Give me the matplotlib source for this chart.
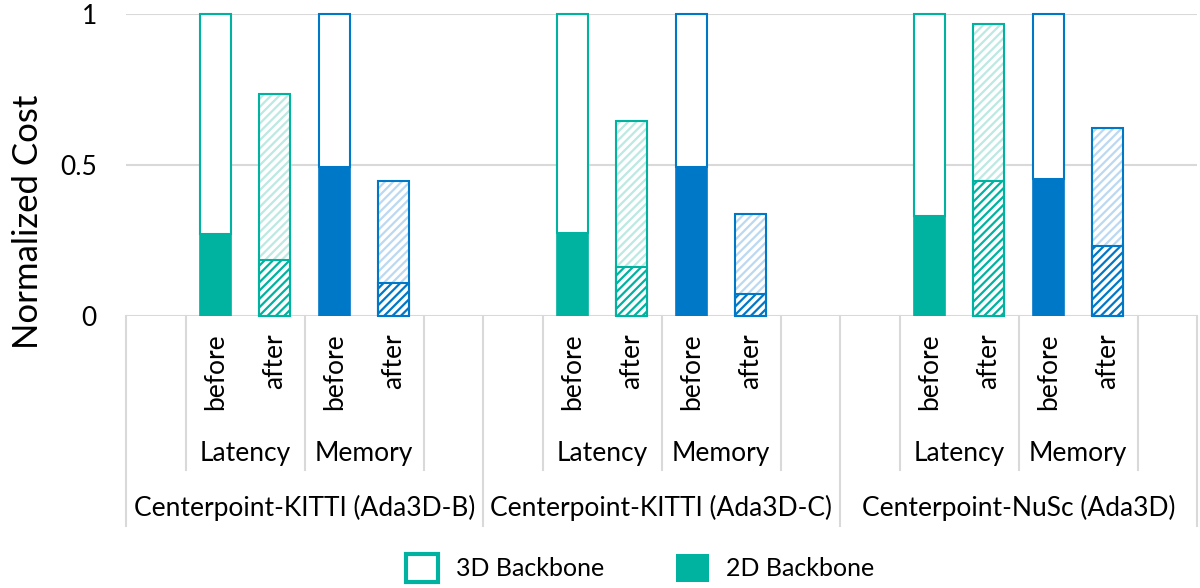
import matplotlib
matplotlib.use("Agg")
import matplotlib.pyplot as plt
from matplotlib.patches import Patch
from matplotlib.transforms import blended_transform_factory

plt.rcParams['font.family'] = ['Lato', 'DejaVu Sans']
plt.rcParams['hatch.linewidth'] = 1.6

groups = ["Centerpoint-KITTI (Ada3D-B)", "Centerpoint-KITTI (Ada3D-C)", "Centerpoint-NuSc (Ada3D)"]
metrics = ["Latency", "Memory"]
stages = ["before", "after"]

# per group: [lat_before, lat_after, mem_before, mem_after]
total_cost = [
    [1.0, 0.735, 1.0, 0.448],
    [1.0, 0.646, 1.0, 0.337],
    [1.0, 0.966, 1.0, 0.621],
]
backbone2d = [
    [0.270, 0.186, 0.493, 0.109],
    [0.276, 0.163, 0.492, 0.072],
    [0.332, 0.448, 0.455, 0.233],
]

teal = '#00B2A0'
blue = '#0078C8'
teal_light = '#BDE9E3'
blue_light = '#BCD9F1'
grid_c = '#D9D9D9'

fig = plt.figure(figsize=(12, 5.88), dpi=100)
ax = fig.add_axes([126/1200, 1-316/588, (1197-126)/1200, (316-14)/588])
ax.set_xlim(0, 18)
ax.set_ylim(0, 1)
for s in ax.spines.values():
    s.set_visible(False)
ax.set_yticks([0, 0.5, 1])
ax.set_yticklabels(['0', '0.5', '1'])
ax.tick_params(axis='y', length=0, pad=21, labelsize=19)
ax.set_xticks([])
for yv in [0, 0.5, 1]:
    ax.axhline(yv, color=grid_c, lw=1.5, zorder=0)

w = 0.52
for g in range(3):
    for k in range(4):
        x = g*6 + 1 + k + 0.5
        dark = teal if k < 2 else blue
        light = teal_light if k < 2 else blue_light
        tot = total_cost[g][k]
        b2 = backbone2d[g][k]
        if k % 2 == 0:
            ax.bar(x, b2, w, color=dark, edgecolor=dark, lw=1.2, zorder=2)
            ax.bar(x, tot - b2, w, bottom=b2, color='white', edgecolor=dark, lw=1.5, zorder=2, clip_on=False)
        else:
            ax.bar(x, b2, w, color='white', edgecolor=dark, hatch='////', lw=0, zorder=2)
            ax.bar(x, tot - b2, w, bottom=b2, color='white', edgecolor=light, hatch='////', lw=0, zorder=2)
            ax.bar(x, b2, w, fill=False, edgecolor=dark, lw=1.5, zorder=3)
            ax.bar(x, tot, w, fill=False, edgecolor=dark, lw=1.5, zorder=3, clip_on=False)

# multi-level category axis
tr = blended_transform_factory(ax.transData, fig.transFigure)
y0 = 1 - 316/588
y_inner = 1 - 470/588
y_outer = 1 - 526/588
for g in range(3):
    base = g*6
    for xb in [1, 3, 5]:
        ax.plot([base+xb, base+xb], [y0, y_inner], color=grid_c, lw=1.5, transform=tr, clip_on=False)
    for k in range(4):
        ax.text(base + 1 + k + 0.5, 1 - 333/588, stages[k % 2], rotation=90, ha='center', va='top',
                fontsize=19, transform=tr)
    for m in range(2):
        ax.text(base + 2 + 2*m, 1 - 453/588, metrics[m], ha='center', va='center', fontsize=19, transform=tr)
    ax.text(base + 3, 1 - 508/588, groups[g], ha='center', va='center', fontsize=19, transform=tr)
for xb in [0, 6, 12, 18]:
    ax.plot([xb, xb], [y0, y_outer], color=grid_c, lw=1.5, transform=tr, clip_on=False)

fig.text(28/1200, 1 - 222/588, 'Normalized Cost', rotation=90, ha='center', va='center', fontsize=25)

handles = [Patch(facecolor='white', edgecolor=teal, lw=3, label='3D Backbone'),
           Patch(facecolor=teal, edgecolor=teal, lw=0, label='2D Backbone')]
fig.legend(handles=handles, loc='center', bbox_to_anchor=(640/1200, 1 - 568/588), ncol=2,
           frameon=False, fontsize=18, handlelength=1.3, handleheight=1.3, handletextpad=0.7,
           columnspacing=2.9)

fig.savefig('out.png', dpi=100)
